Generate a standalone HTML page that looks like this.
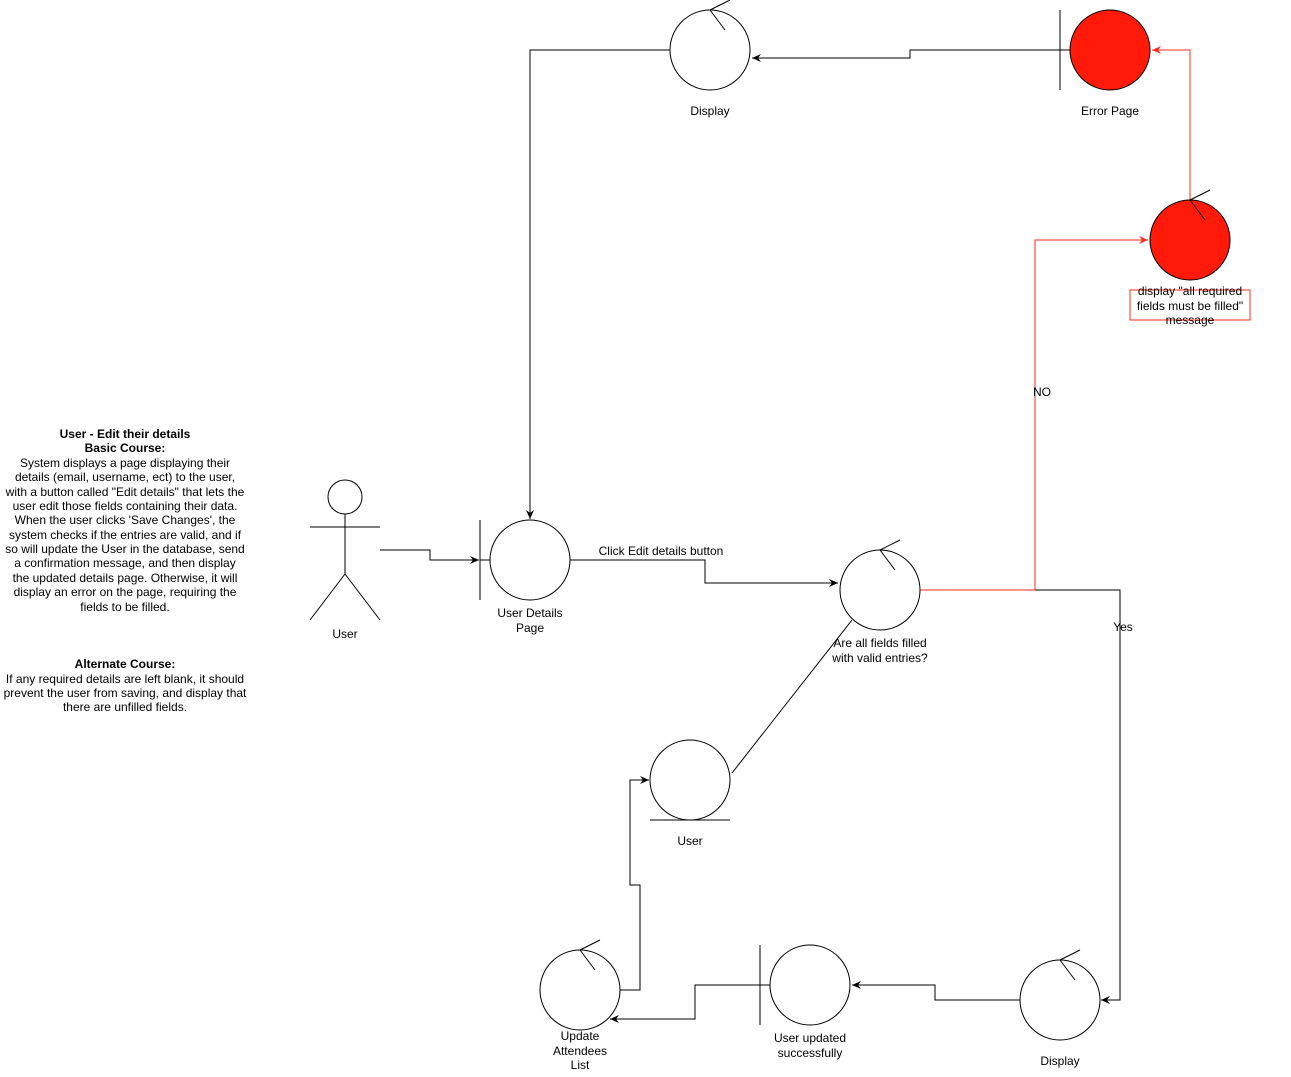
<!DOCTYPE html>
<html><head><meta charset="utf-8"><style>
body{margin:0;background:#fff}
svg text{font-family:"Liberation Sans",Arial,sans-serif;font-size:12px;text-anchor:middle}
</style></head><body>
<svg width="1291" height="1072" viewBox="0 0 1291 1072" xmlns="http://www.w3.org/2000/svg">
<defs>
<marker id="a" markerWidth="10" markerHeight="8" refX="9" refY="4" orient="auto" markerUnits="userSpaceOnUse"><path d="M0,0 L9,4 L0,8 L3,4z" fill="#000"/></marker>
<marker id="r" markerWidth="10" markerHeight="8" refX="9" refY="4" orient="auto" markerUnits="userSpaceOnUse"><path d="M0,0 L9,4 L0,8 L3,4z" fill="#ff2a1a"/></marker>
</defs>
<g fill="none" stroke="#000" stroke-width="1">
<!-- connectors -->
<polyline points="1060,50 910,50 910,58 752,58" marker-end="url(#a)"/>
<polyline points="670,50 530,50 530,519" marker-end="url(#a)"/>
<polyline points="380,550 430,550 430,560 479,560" marker-end="url(#a)"/>
<polyline points="570,560 705,560 705,583 838,583" marker-end="url(#a)"/>
<polyline points="1035,590 1120,590 1120,1000 1101,1000" marker-end="url(#a)"/>
<line x1="852" y1="620" x2="732" y2="773"/>
<polyline points="1020,1000 935,1000 935,985 852,985" marker-end="url(#a)"/>
<polyline points="770,985 695,985 695,1019 610,1019" marker-end="url(#a)"/>
<polyline points="620,990 640,990 640,885 630,885 630,780 649,780" marker-end="url(#a)"/>
</g>
<g fill="none" stroke="#ff2a1a">
<polyline points="920,590 1035,590 1035,240 1148,240" marker-end="url(#r)"/>
<polyline points="1190,200 1190,50 1152,50" marker-end="url(#r)"/>
</g>
<g stroke="#000" fill="#fff">
<!-- top display control -->
<circle cx="710" cy="50" r="40"/><path d="M710,10 L730,0 M710,10 L725,30" fill="none"/>
<!-- Error page boundary -->
<circle cx="1110" cy="50" r="40" fill="#ff1a0a"/><path d="M1060,10 V90 M1060,50 H1070" fill="none"/>
<!-- red control -->
<circle cx="1190" cy="240" r="40" fill="#ff1a0a"/><path d="M1190,200 L1210,190 M1190,200 L1205,220" fill="none"/>
<!-- UDP boundary -->
<circle cx="530" cy="560" r="40"/><path d="M480,520 V600 M480,560 H490" fill="none"/>
<!-- validation control -->
<circle cx="880" cy="590" r="40"/><path d="M880,550 L900,540 M880,550 L895,570" fill="none"/>
<!-- entity -->
<circle cx="690" cy="780" r="40"/><path d="M650,820 H730" fill="none"/>
<!-- update attendees -->
<circle cx="580" cy="990" r="40"/><path d="M580,950 L600,940 M580,950 L595,970" fill="none"/>
<!-- user updated boundary -->
<circle cx="810" cy="985" r="40"/><path d="M760,945 V1025 M760,985 H770" fill="none"/>
<!-- bottom display -->
<circle cx="1060" cy="1000" r="40"/><path d="M1060,960 L1080,950 M1060,960 L1075,980" fill="none"/>
<!-- actor -->
<circle cx="345" cy="497" r="17"/><path d="M345,514 V574 M310,527 H380 M345,574 L310,620 M345,574 L380,620" fill="none"/>
</g>
<rect x="1130" y="290" width="120" height="30" fill="none" stroke="#ff2a1a"/>
<g fill="#000">
<text x="710" y="115">Display</text>
<text x="1110" y="115">Error Page</text>
<text x="1190" y="295">display "all required</text>
<text x="1190" y="310">fields must be filled"</text>
<text x="1190" y="324">message</text>
<text x="1042" y="396">NO</text>
<text x="1123" y="631">Yes</text>
<text x="661" y="555">Click Edit details button</text>
<text x="530" y="617">User Details</text>
<text x="530" y="632">Page</text>
<text x="345" y="638">User</text>
<text x="880" y="647">Are all fields filled</text>
<text x="880" y="662">with valid entries?</text>
<text x="690" y="845">User</text>
<text x="580" y="1040">Update</text>
<text x="580" y="1055">Attendees</text>
<text x="580" y="1069">List</text>
<text x="810" y="1042">User updated</text>
<text x="810" y="1057">successfully</text>
<text x="1060" y="1065">Display</text>
<g font-size="12">
<text x="125" y="438" font-weight="bold">User - Edit their details</text>
<text x="125" y="452" font-weight="bold">Basic Course:</text>
<text x="125" y="467">System displays a page displaying their</text>
<text x="125" y="481">details (email, username, ect) to the user,</text>
<text x="125" y="496">with a button called "Edit details" that lets the</text>
<text x="125" y="510">user edit those fields containing their data.</text>
<text x="125" y="524">When the user clicks 'Save Changes', the</text>
<text x="125" y="539">system checks if the entries are valid, and if</text>
<text x="125" y="553">so will update the User in the database, send</text>
<text x="125" y="567">a confirmation message, and then display</text>
<text x="125" y="582">the updated details page. Otherwise, it will</text>
<text x="125" y="596">display an error on the page, requiring the</text>
<text x="125" y="611">fields to be filled.</text>
<text x="125" y="668" font-weight="bold">Alternate Course:</text>
<text x="125" y="683">If any required details are left blank, it should</text>
<text x="125" y="697">prevent the user from saving, and display that</text>
<text x="125" y="711">there are unfilled fields.</text>
</g>
</g>
</svg>
</body></html>
